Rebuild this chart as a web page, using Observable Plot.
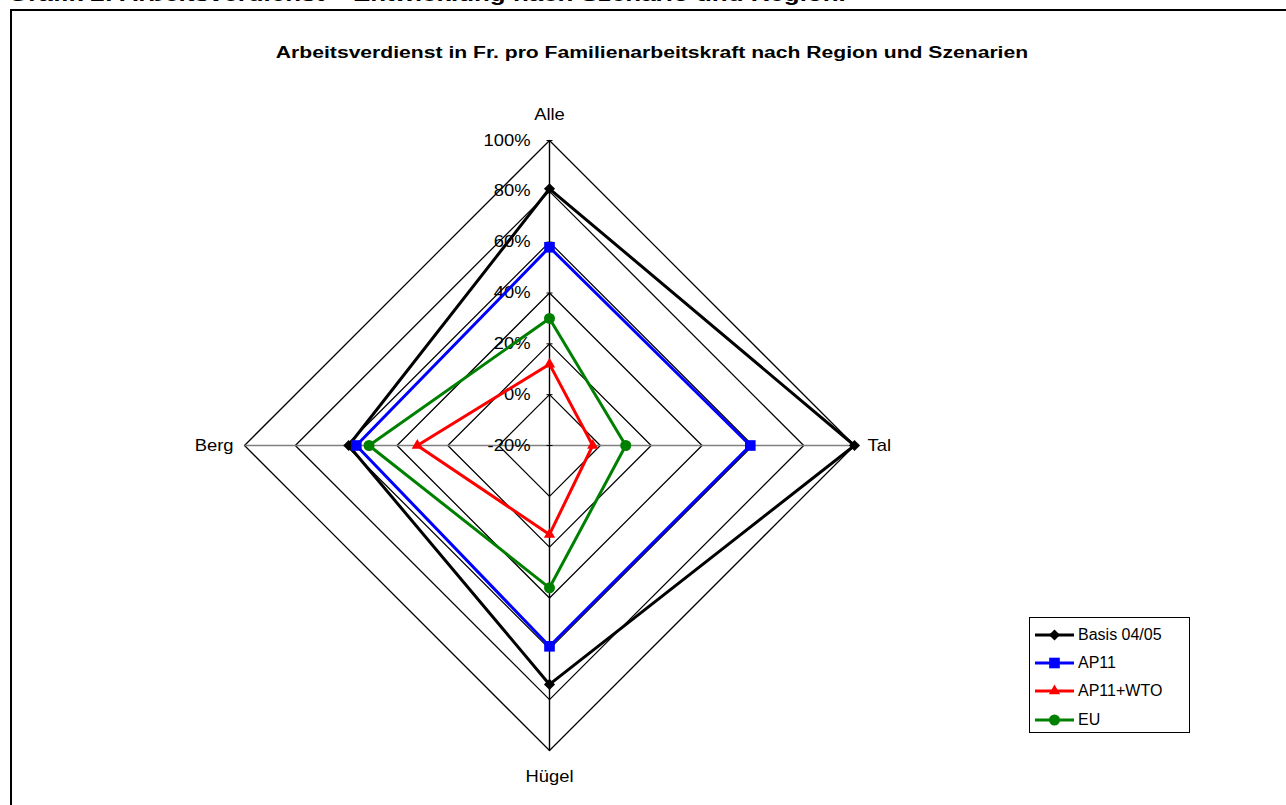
<!DOCTYPE html>
<html>
<head>
<meta charset="utf-8">
<script src="https://cdn.jsdelivr.net/npm/d3@7"></script>
<script src="https://cdn.jsdelivr.net/npm/@observablehq/plot@0.6"></script>
<style>
  html, body { margin: 0; padding: 0; background: #fff; }
  #page { position: relative; width: 1286px; height: 805px; overflow: hidden; font-family: "Liberation Sans", Arial, sans-serif; }
  #header { position: absolute; left: 8px; top: -17px; font-size: 19.5px; font-weight: bold; white-space: nowrap; line-height: 22px; transform: scaleX(1.33); transform-origin: 0 0; }
  #frame { position: absolute; left: 10px; top: 9px; width: 1400px; height: 1000px; border: 2px solid #000; box-sizing: border-box; }
  #title { position: absolute; left: 0; width: 1304px; top: 44px; text-align: center; font-size: 16px; font-weight: bold; white-space: nowrap; transform: scaleX(1.32); transform-origin: 652px 0; }
  #chart { position: absolute; left: 0; top: 0; }
  #legend { position: absolute; left: 1029px; top: 617px; width: 161px; height: 116px; border: 1px solid #000; box-sizing: border-box; background: #fff; }
  .row { position: absolute; left: 5px; height: 20px; display: flex; align-items: center; font-size: 16px; white-space: nowrap; }
  .row svg { margin-right: 4px; }
</style>
</head>
<body>
<div id="page">
  <div id="header"></div>
  <div id="frame"></div>
  <div id="title"></div>
  <div id="chart"></div>
  <div id="legend"></div>
</div>
<script>
// ---- data ----
const headerText = "Grafik 2: Arbeitsverdienst – Entwicklung nach Szenario und Region.";
const titleText = "Arbeitsverdienst in Fr. pro Familienarbeitskraft nach Region und Szenarien";
const categories = ["Alle", "Tal", "Hügel", "Berg"];
const seriesNames = ["Basis 04/05", "AP11", "AP11+WTO", "EU"];
const basis = [81, 100, 74, 59];
const ap11 = [58, 59, 59, 56];
const ap11wto = [12, -3, 15, 32];
const eu = [30, 10, 36, 51];
const tickValues = [-20, 0, 20, 40, 60, 80, 100];
const tickLabels = ["-20%", "0%", "20%", "40%", "60%", "80%", "100%"];

// ---- styles ----
const colors = ["#000000", "#0000ff", "#ff0000", "#008000"];
const symbols = ["diamond2", "square", "triangle", "circle"];
const symbolR = [5, 6, 4.2, 5.5];

document.getElementById("header").textContent = headerText;
document.getElementById("title").textContent = titleText;

const W = 1286, H = 805, CX = 549, CY = 445, RPX = 305;
const rMin = -20, rMax = 100;
const k = (rMax - rMin) / RPX;
const angle = i => i * Math.PI / 2; // Alle up, Tal right, Hügel down, Berg left
const px = (v, i) => (v - rMin) * Math.sin(angle(i));
const py = (v, i) => (v - rMin) * Math.cos(angle(i));

const allValues = [basis, ap11, ap11wto, eu];
const seriesPts = [];
allValues.forEach((vals, s) => {
  [0, 1, 2, 3, 0].forEach(i => seriesPts.push({series: seriesNames[s], s, x: px(vals[i], i), y: py(vals[i], i)}));
});
const gridPts = [];
tickValues.slice(1).forEach(t => {
  [0, 1, 2, 3, 0].forEach(i => gridPts.push({level: t, x: px(t, i), y: py(t, i)}));
});
const spokes = categories.map((c, i) => ({c, i, x: px(rMax, i), y: py(rMax, i)}));
const tickHalf = 3 * k;

const marks = [
  Plot.line(gridPts, {x: "x", y: "y", z: "level", stroke: "#000", strokeWidth: 1.25}),
  Plot.link(spokes, {x1: 0, y1: 0, x2: "x", y2: "y", stroke: d => (d.i % 2 ? "#808080" : "#000"), strokeWidth: 1.4}),
  Plot.link(tickValues, {x1: -tickHalf, x2: tickHalf, y1: d => d - rMin, y2: d => d - rMin, stroke: "#000", strokeWidth: 1}),
  Plot.text(tickValues, {x: 0, y: d => d - rMin, text: (d, j) => tickLabels[j], textAnchor: "end", dx: -19, fontSize: 16, fill: "#000"}),
  Plot.text(spokes.filter(d => d.i === 0), {x: "x", y: "y", text: "c", dy: -26, fontSize: 16, fill: "#000"}),
  Plot.text(spokes.filter(d => d.i === 1), {x: "x", y: "y", text: "c", dx: 13, textAnchor: "start", fontSize: 16, fill: "#000"}),
  Plot.text(spokes.filter(d => d.i === 2), {x: "x", y: "y", text: "c", dy: 26, fontSize: 16, fill: "#000"}),
  Plot.text(spokes.filter(d => d.i === 3), {x: "x", y: "y", text: "c", dx: -11, textAnchor: "end", fontSize: 16, fill: "#000"})
];
seriesNames.forEach((name, s) => {
  const pts = seriesPts.filter(d => d.s === s);
  marks.push(Plot.line(pts, {x: "x", y: "y", stroke: colors[s], strokeWidth: 3, strokeLinejoin: "miter"}));
  marks.push(Plot.dot(pts.slice(0, 4), {x: "x", y: "y", symbol: () => symbols[s], r: symbolR[s], fill: colors[s], stroke: "none"}));
});

const chart = Plot.plot({
  width: W, height: H, margin: 0,
  x: {domain: [-CX * k, (W - CX) * k], axis: null},
  y: {domain: [-(H - CY) * k, CY * k], axis: null},
  symbol: {type: "identity"},
  style: {fontFamily: "'Liberation Sans', Arial, sans-serif", fontSize: "16px", background: "transparent", overflow: "visible"},
  marks
});
// the reference's texts are drawn slightly wider than the font's natural width
d3.select(chart).selectAll("text").each(function() {
  const t = this.getAttribute("transform") || "";
  this.setAttribute("transform", t + " scale(1.15,1)");
});
document.getElementById("chart").appendChild(chart);

// ---- legend ----
const legend = document.getElementById("legend");
const rowTops = [7, 35, 63, 92];
seriesNames.forEach((name, s) => {
  const row = document.createElement("div");
  row.className = "row";
  row.style.top = rowTops[s] + "px";
  const svg = d3.create("svg").attr("width", 39).attr("height", 14);
  svg.append("line").attr("x1", 0).attr("x2", 39).attr("y1", 7).attr("y2", 7).attr("stroke", colors[s]).attr("stroke-width", 3);
  const symType = [d3.symbolDiamond2, d3.symbolSquare, d3.symbolTriangle, d3.symbolCircle][s];
  svg.append("path").attr("transform", "translate(19.5,7)")
    .attr("d", d3.symbol(symType, Math.PI * symbolR[s] * symbolR[s])()).attr("fill", colors[s]);
  row.appendChild(svg.node());
  const span = document.createElement("span");
  span.textContent = name;
  row.appendChild(span);
  legend.appendChild(row);
});
</script>
</body>
</html>
